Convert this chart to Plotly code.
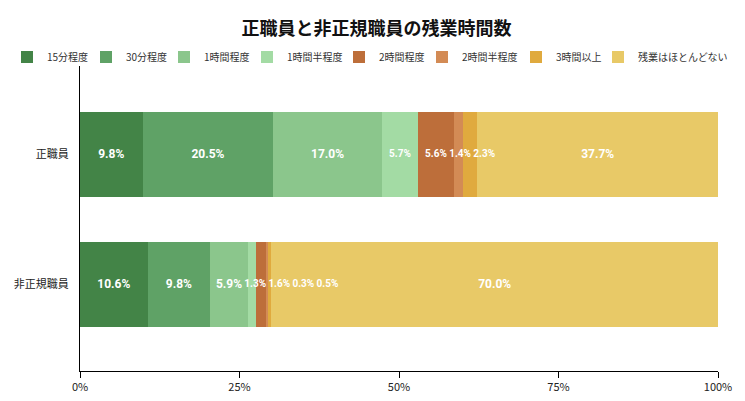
import plotly.graph_objects as go

# groups shown on the y axis (top to bottom)
groups = ['正職員', '非正規職員']

# overtime categories and their colours
categories = ['15分程度', '30分程度', '1時間程度', '1時間半程度',
              '2時間程度', '2時間半程度', '3時間以上', '残業はほとんどない']
colors = ['#438447', '#5fa266', '#8bc68c', '#a3dba4',
          '#bd6e3a', '#d38b55', '#e0aa3e', '#e8c967']

# percentages per category: [正職員, 非正規職員]
v_15min = [9.8, 10.6]
v_30min = [20.5, 9.8]
v_1h = [17.0, 5.9]
v_1h30 = [5.7, 1.3]
v_2h = [5.6, 1.6]
v_2h30 = [1.4, 0.3]
v_3h = [2.3, 0.5]
v_none = [37.7, 70.0]
values = [v_15min, v_30min, v_1h, v_1h30, v_2h, v_2h30, v_3h, v_none]

tick_vals = [0, 25, 50, 75, 100]
tick_text = ['0%', '25%', '50%', '75%', '100%']

# the page puts the figure 8px in from the top-left corner
OFF = 8
W, H = 745 - OFF, 401 - OFF
ml, mr, mt, mb = 80 - OFF, 27, 66 - OFF, 30
plot_w = W - ml - mr
plot_h = H - mt - mb

# left edge (page px) of each legend entry's text
legend_text_px = [47, 126, 204, 287, 379, 462, 556, 638]

font = 'Noto Sans CJK JP'


# rough width of a bold Roboto label in px
def label_width(s, size):
    w = 0
    for ch in s:
        w += 0.26 if ch == '.' else (0.73 if ch == '%' else 0.56)
    return w * size


fig = go.Figure()
legends = {}
for i, (name, color, vals) in enumerate(zip(categories, colors, values)):
    key = 'legend' if i == 0 else 'legend%d' % (i + 1)
    fig.add_trace(go.Bar(
        y=groups, x=vals, name=name, orientation='h',
        marker=dict(color=color, line=dict(width=0)),
        textposition='none', hoverinfo='name+x',
        width=0.654, legend=key,
    ))
    legends[key] = dict(
        orientation='h', x=(legend_text_px[i] - OFF - 40 - ml) / plot_w, xanchor='left',
        y=1 + 9 / plot_h, yanchor='middle', bgcolor='rgba(0,0,0,0)',
        font=dict(size=10, color='#333', family=font), itemwidth=30,
    )

# value labels: centred on their segment, pushed right when they would collide
px_per_unit = plot_w / 100.0
gap = 3 / px_per_unit
for g, group in enumerate(groups):
    xs, texts, sizes = [], [], []
    start = 0.0
    prev_right = -1e9
    for vals in values:
        v = vals[g]
        t = '%.1f%%' % v
        size = 12 if v >= 5.8 else 10
        half = label_width(t, size) / 2 / px_per_unit
        x = max(start + v / 2, prev_right + gap + half)
        prev_right = x + half
        start += v
        xs.append(x)
        texts.append(t)
        sizes.append(size)
    fig.add_trace(go.Scatter(
        x=xs, y=[group] * len(xs), text=texts, mode='text',
        textposition='middle center', cliponaxis=False,
        textfont=dict(color='white', size=sizes, family='Roboto', weight='bold'),
        showlegend=False, hoverinfo='skip',
    ))

fig.update_layout(
    barmode='stack',
    width=W, height=H,
    margin=dict(l=ml, r=mr, t=mt, b=mb, autoexpand=False),
    plot_bgcolor='white', paper_bgcolor='white',
    font=dict(family=font, color='#222'),
    showlegend=True,
    title=dict(text='<b>正職員と非正規職員の残業時間数</b>', x=0.5, xanchor='center',
               yref='container', y=1 - (29 - OFF) / H, yanchor='middle',
               font=dict(size=18, color='#111')),
    xaxis=dict(range=[0, 100], tickvals=tick_vals, ticktext=tick_text,
               showgrid=False, zeroline=False, showline=True, linecolor='#000',
               linewidth=1, ticks='outside', ticklen=6, tickcolor='#000',
               tickfont=dict(size=11, color='#222'), automargin=False),
    xaxis2=dict(range=[0, 100], tickvals=tick_vals, overlaying='x', anchor='y',
                side='bottom', showticklabels=False, showgrid=False, zeroline=False,
                ticks='inside', ticklen=5, tickcolor='#000', matches='x',
                automargin=False),
    yaxis=dict(range=[1.665, -0.681], showgrid=False, zeroline=False,
               showline=True, linecolor='#000', linewidth=1, ticks='',
               ticklabelstandoff=8, tickfont=dict(size=11, color='#222'),
               automargin=False),
    **legends,
)

fig.write_html("out.html")
